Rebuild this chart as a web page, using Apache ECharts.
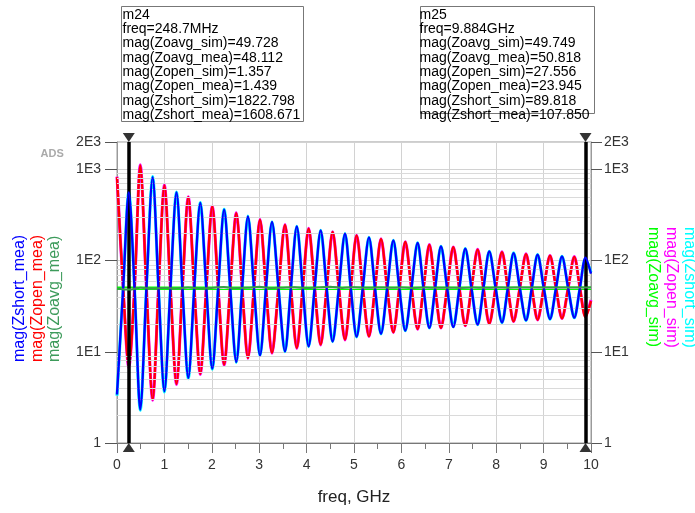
<!DOCTYPE html>
<html><head><meta charset="utf-8">
<script src="https://cdn.jsdelivr.net/npm/echarts@6/dist/echarts.min.js"></script>
<style>html,body{margin:0;padding:0;background:#fff}#c{width:695px;height:513px}</style>
</head><body><div id="c"></div>
<script>
// ---------- data ----------
// frequency points (GHz): extrema and crossings of the two traces
const freqGHz = [
  0, 0.130, 0.2487, 0.370,
  0.491, 0.621, 0.752, 0.876,
  1.000, 1.127, 1.255, 1.380, 1.504, 1.630, 1.757, 1.884,
  2.010, 2.135, 2.260, 2.388, 2.517, 2.640, 2.763, 2.890,
  3.017, 3.143, 3.270, 3.407, 3.544, 3.668, 3.793, 3.918,
  4.043, 4.170, 4.297, 4.423, 4.549, 4.680, 4.810, 4.932,
  5.055, 5.185, 5.316, 5.443, 5.570, 5.700, 5.830, 5.956,
  6.082, 6.212, 6.342, 6.466, 6.590, 6.712, 6.835, 6.965,
  7.095, 7.222, 7.348, 7.478, 7.608, 7.731, 7.854, 7.988,
  8.122, 8.245, 8.367, 8.498, 8.629, 8.751, 8.873, 9.004,
  9.135, 9.262, 9.388, 9.518, 9.648, 9.766, 9.884, 10.0
];
const zshortMea = [
  3.4, 50, 560, 50,
  2.33, 50, 823, 50,
  3.7, 50, 558, 50, 5.18, 50, 428, 50,
  6.55, 50, 361, 50, 7.75, 50, 305, 50,
  9.16, 50, 265, 50, 10.1, 50, 237, 50,
  11.5, 50, 214, 50, 13.0, 50, 197, 50,
  14.6, 50, 180, 50, 15.8, 50, 166, 50,
  17.1, 50, 156, 50, 18.3, 50, 143, 50,
  18.7, 50, 135, 50, 19.9, 50, 126, 50,
  21.0, 50, 121, 50, 22.1, 50, 116, 50,
  22.9, 50, 111, 50, 23.7, 50, 107.85, 72
];
const zopenMea = [
  820, 50, 6.9, 50,
  1104, 50, 3.0, 50,
  666, 50, 4.45, 50, 497, 50, 5.73, 50,
  392, 50, 7.24, 50, 332, 50, 8.57, 50,
  281, 50, 9.73, 50, 247, 50, 11.0, 50,
  224, 50, 12.0, 50, 206, 50, 13.6, 50,
  189, 50, 14.8, 50, 173, 50, 16.4, 50,
  160, 50, 17.8, 50, 149, 50, 18.3, 50,
  140, 50, 19.4, 50, 132, 50, 20.4, 50,
  124, 50, 21.6, 50, 118, 50, 22.5, 50,
  113, 50, 23.3, 50, 110, 50, 23.945, 36
];
const zshortSim = [
  3.3, 50, 570, 50,
  2.28, 50, 835, 50,
  3.62, 50, 565, 50, 5.08, 50, 433, 50,
  6.45, 50, 365, 50, 7.65, 50, 308, 50,
  9.05, 50, 267, 50, 10.0, 50, 239, 50,
  11.4, 50, 215, 50, 12.9, 50, 198, 50,
  14.5, 50, 181, 50, 15.7, 50, 167, 50,
  17.0, 50, 157, 50, 18.2, 50, 144, 50,
  18.8, 50, 136, 50, 19.8, 50, 127, 50,
  20.9, 50, 122, 50, 22.0, 50, 117, 50,
  22.8, 50, 112, 50, 23.6, 50, 105, 74
];
const zopenSim = [
  835, 50, 6.7, 50,
  1125, 50, 2.95, 50,
  678, 50, 4.38, 50, 503, 50, 5.65, 50,
  396, 50, 7.15, 50, 335, 50, 8.5, 50,
  284, 50, 9.65, 50, 249, 50, 10.9, 50,
  226, 50, 11.9, 50, 207, 50, 13.5, 50,
  190, 50, 14.7, 50, 174, 50, 16.3, 50,
  161, 50, 17.7, 50, 150, 50, 18.2, 50,
  141, 50, 19.3, 50, 133, 50, 20.3, 50,
  125, 50, 21.5, 50, 119, 50, 22.4, 50,
  114, 50, 23.2, 50, 111, 50, 24.6, 37
];
const zoavgFreq = [
  0, 0.25, 0.5, 0.75, 1.0, 1.25, 1.5, 1.75, 2.0, 2.25, 2.5, 2.75,
  3.0, 3.25, 3.5, 3.75, 4.0, 4.25, 4.5, 4.75, 5.0, 5.25, 5.5, 5.75,
  6.0, 6.25, 6.5, 6.75, 7.0, 7.25, 7.5, 7.75, 8.0, 8.25, 8.5, 8.75,
  9.0, 9.25, 9.5, 9.75, 10.0
];
const zoavgMea = [
  49.6, 48.1, 50.4, 49.4, 50.1, 49.5, 50.7, 49.6, 50.2, 51.3, 49.8, 50.3,
  51.6, 49.9, 50.5, 51.1, 50.0, 50.9, 51.7, 50.2, 51.2, 50.3, 50.8, 50.4,
  50.7, 50.2, 50.6, 50.3, 50.5, 50.2, 50.6, 50.4, 50.7, 50.5, 50.8, 50.6,
  50.9, 50.6, 50.8, 50.7, 50.8
];
const zoavgSim = [
  49.8, 49.7, 49.7, 49.8, 49.7, 49.7, 49.8, 49.7, 49.7, 49.8, 49.7, 49.7,
  49.8, 49.7, 49.7, 49.8, 49.7, 49.7, 49.8, 49.7, 49.7, 49.8, 49.7, 49.7,
  49.8, 49.7, 49.7, 49.8, 49.7, 49.7, 49.8, 49.7, 49.7, 49.8, 49.7, 49.7,
  49.8, 49.7, 49.7, 49.8, 49.7
];
const markerFreqs = [0.2487, 9.884];
const yTop = 2000, yBottom = 1;
const logMinorGrid = [2,3,4,5,6,7,8,9, 20,30,40,50,60,70,80,90, 200,300,400,500,600,700,800,900];
const m24Lines = ['m24','freq=248.7MHz','mag(Zoavg_sim)=49.728','mag(Zoavg_mea)=48.112',
  'mag(Zopen_sim)=1.357','mag(Zopen_mea)=1.439','mag(Zshort_sim)=1822.798','mag(Zshort_mea)=1608.671'];
const m25Lines = ['m25','freq=9.884GHz','mag(Zoavg_sim)=49.749','mag(Zoavg_mea)=50.818',
  'mag(Zopen_sim)=27.556','mag(Zopen_mea)=23.945','mag(Zshort_sim)=89.818','mag(Zshort_mea)=107.850'];

// ---------- chart ----------
const FONT = '"Liberation Sans", Arial, sans-serif';
const pairs = (xs, ys) => xs.map((x, i) => [x, ys[i]]);
function fmtLog(v) {
  const e = Math.floor(Math.log10(v) + 1e-9);
  const m = Math.round(v / Math.pow(10, e) * 100) / 100;
  return e === 0 ? String(m) : m + 'E' + e;
}
function trace(name, xs, ys, color, width, z, smooth) {
  return { name, type: 'line', data: pairs(xs, ys), showSymbol: false, symbol: 'none',
    smooth: smooth, lineStyle: { color, width }, z, silent: true, animation: false };
}
const chart = echarts.init(document.getElementById('c'), null, { renderer: 'canvas', width: 695, height: 513 });
const yAxisBase = {
  type: 'log', logBase: 10, min: yBottom, max: yTop,
  axisLine: { show: true, lineStyle: { color: '#9a9a9a', width: 1 } },
  axisTick: { show: true, length: 12, lineStyle: { color: '#555' } },
  axisLabel: { formatter: fmtLog, fontSize: 14, color: '#333', fontFamily: FONT },
  minorTick: { show: false }
};
const sideText = (txt, x, y, color, rot) => ({
  type: 'text', x, y, rotation: rot, silent: true,
  style: { text: txt, fill: color, font: '16px ' + FONT, textAlign: 'left', textVerticalAlign: 'middle' }
});
chart.setOption({
  animation: false,
  backgroundColor: '#fff',
  grid: { left: 117, right: 104, top: 142, bottom: 70, show: true, borderColor: '#9a9a9a', borderWidth: 1, backgroundColor: '#fff' },
  xAxis: {
    type: 'value', min: 0, max: 10, interval: 1,
    axisLine: { show: true, onZero: false, lineStyle: { color: '#777' } },
    axisTick: { show: true, length: 10, lineStyle: { color: '#777' } },
    minorTick: { show: true, splitNumber: 2, length: 6, lineStyle: { color: '#777' } },
    axisLabel: { color: '#333', fontSize: 14, fontFamily: FONT, margin: 15 },
    splitLine: { show: true, lineStyle: { color: '#d2d2d2', width: 1 } },
    name: 'freq, GHz', nameLocation: 'middle', nameGap: 46,
    nameTextStyle: { fontSize: 17, color: '#222', fontFamily: FONT }
  },
  yAxis: [
    Object.assign({}, yAxisBase, { position: 'left', axisLabel: Object.assign({}, yAxisBase.axisLabel, { margin: 16 }),
      splitLine: { show: true, lineStyle: { color: '#d2d2d2', width: 1 } } }),
    Object.assign({}, yAxisBase, { position: 'right', axisTick: { show: true, length: 11, lineStyle: { color: '#555' } },
      axisLabel: Object.assign({}, yAxisBase.axisLabel, { margin: 13 }), splitLine: { show: false } })
  ],
  series: [
    { type: 'line', data: [[0, 1]], symbol: 'none', lineStyle: { opacity: 0 }, z: 1, silent: true,
      markLine: { silent: true, symbol: ['none', 'none'], label: { show: false }, animation: false,
        lineStyle: { color: '#dadada', width: 1, type: 'solid' },
        data: logMinorGrid.map(v => ({ yAxis: v })) } },
    trace('Zopen_sim', freqGHz, zopenSim, '#ff00ff', 3.0, 3, 0.3),
    trace('Zshort_sim', freqGHz, zshortSim, '#00ffff', 3.0, 3, 0.3),
    trace('Zoavg_sim', zoavgFreq, zoavgSim, '#00ff00', 3.4, 3, 0.3),
    trace('Zopen_mea', freqGHz, zopenMea, '#ff0000', 2.4, 4, 0.3),
    trace('Zshort_mea', freqGHz, zshortMea, '#0000ff', 2.4, 5, 0.3),
    trace('Zoavg_mea', zoavgFreq, zoavgMea, '#3a9a4a', 2, 6, 0.3),
    { type: 'line', data: [], z: 10, silent: true,
      markLine: { silent: true, symbol: ['none', 'none'], label: { show: false }, animation: false,
        lineStyle: { color: '#000', width: 3.5, type: 'solid' },
        data: markerFreqs.map(f => ({ xAxis: f })) } },
    { type: 'scatter', data: markerFreqs.map(f => [f, yTop]), symbol: 'triangle', symbolSize: [12, 9],
      symbolRotate: 180, symbolOffset: [0, -4.5], clip: false, z: 11, silent: true,
      itemStyle: { color: '#000' } },
    { type: 'scatter', data: markerFreqs.map(f => [f, yBottom]), symbol: 'triangle', symbolSize: [12, 9],
      symbolOffset: [0, 4.5], clip: false, z: 11, silent: true, itemStyle: { color: '#000' } }
  ],
  graphic: [
    { type: 'rect', silent: true, shape: { x: 121.5, y: 6.5, width: 182, height: 115 },
      style: { fill: '#fff', stroke: '#777', lineWidth: 1 } },
    { type: 'text', silent: true, x: 122.5, y: 7.8,
      style: { text: m24Lines.join('\n'), font: '14px ' + FONT, lineHeight: 14.3, fill: '#000', textVerticalAlign: 'top' } },
    { type: 'rect', silent: true, shape: { x: 420.5, y: 6.5, width: 174, height: 107 },
      style: { fill: '#fff', stroke: '#777', lineWidth: 1 } },
    { type: 'text', silent: true, x: 419.5, y: 7.8,
      style: { text: m25Lines.join('\n'), font: '14px ' + FONT, lineHeight: 14.3, fill: '#000', textVerticalAlign: 'top' } },
    { type: 'text', silent: true, x: 40.5, y: 153.5,
      style: { text: 'ADS', font: 'bold 11px ' + FONT, fill: '#aaaaaa', textVerticalAlign: 'middle' } },
    sideText('mag(Zshort_mea)', 19.5, 362, '#0000ff', Math.PI / 2),
    sideText('mag(Zopen_mea)', 37.5, 362, '#ff0000', Math.PI / 2),
    sideText('mag(Zoavg_mea)', 55, 362, '#3d9b5b', Math.PI / 2),
    sideText('mag(Zoavg_sim)', 653.5, 227, '#00ff00', -Math.PI / 2),
    sideText('mag(Zopen_sim)', 671.5, 227, '#ff00ff', -Math.PI / 2),
    sideText('mag(Zshort_sim)', 689, 227, '#00ffff', -Math.PI / 2)
  ]
});
</script>
</body></html>
